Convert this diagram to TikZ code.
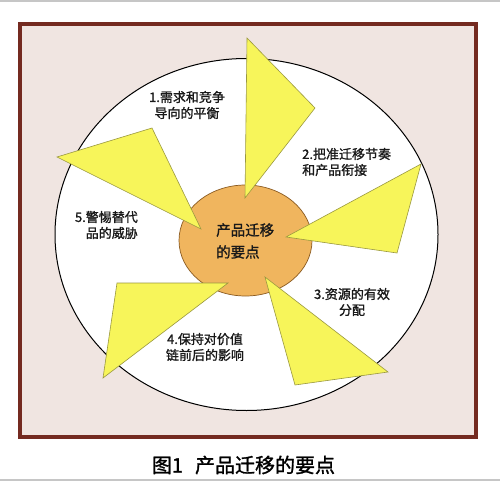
\documentclass[tikz,border=0pt]{standalone}
\usepackage{fontspec}
\setmainfont{Noto Sans CJK SC}
\newfontfamily\heavycjk[FakeBold=1.3]{Noto Sans CJK SC}
\usetikzlibrary{positioning}

\definecolor{framered}{HTML}{742A20}
\definecolor{framefill}{HTML}{F0E5E1}
\definecolor{hubfill}{HTML}{F0B55E}
\definecolor{hubline}{HTML}{8A5A20}
\definecolor{arrowfill}{HTML}{F7F55A}
\definecolor{arrowline}{HTML}{9A9840}

\tikzset{
    pointlabel/.style={font=\heavycjk\fontsize{13}{16}\selectfont, inner sep=0pt, text=black!90},
    pointer/.style={fill=arrowfill, draw=arrowline, line width=0.6pt, line join=miter}
}

\begin{document}
\begin{tikzpicture}[x=1pt, y=-1pt]
\useasboundingbox (0, 0) rectangle (500, 481);

% Scan edges.
\draw[gray!45, line width=1.5] (0, 1) -- (500, 1);
\draw[gray!45, line width=2] (0, 480) -- (500, 480);

% Draw frame.
\draw[framered, line width=4, fill=framefill] (20, 24) rectangle (476, 437);

% Draw outer ring and hub.
\draw[black, line width=1, fill=white] (246.5, 234.5) ellipse (191.5 and 176);
\draw[hubline, line width=0.7, fill=hubfill] (245.5, 240.5) ellipse (66.5 and 55.5);

% Draw pointers.
\filldraw[pointer] (247, 38) -- (315, 108) -- (245, 198) -- cycle;
\filldraw[pointer] (421, 164) -- (397, 253) -- (286, 237) -- cycle;
\filldraw[pointer] (265, 277) -- (388, 372) -- (295, 385) -- cycle;
\filldraw[pointer] (228, 283) -- (117, 283) -- (103, 378) -- cycle;
\filldraw[pointer] (57, 157) -- (152, 128) -- (201, 229) -- cycle;

% Labels.
\node[pointlabel, font=\heavycjk\fontsize{14.5}{22}\selectfont, align=left, anchor=west] (hub) at (216, 241)
    {产品迁移\\的要点};
\node[pointlabel, align=center] (p1) at (187, 105) {1.需求和竞争\\导向的平衡};
\node[pointlabel, align=left, anchor=west] (p2) at (302, 162) {2.把准迁移节奏\\和产品衔接};
\node[pointlabel, align=center] (p3) at (352, 302) {3.资源的有效\\分配};
\node[pointlabel, align=center] (p4) at (205, 347) {4.保持对价值\\链前后的影响};
\node[pointlabel, align=right, anchor=east] (p5) at (138, 225) {5.警惕替代\\品的威胁};

% Caption.
\node[font=\heavycjk\fontsize{20}{24}\selectfont, inner sep=0pt] (caption) at (243.5, 465)
    {图1\hspace{0.6em}产品迁移的要点};

\end{tikzpicture}
\end{document}
